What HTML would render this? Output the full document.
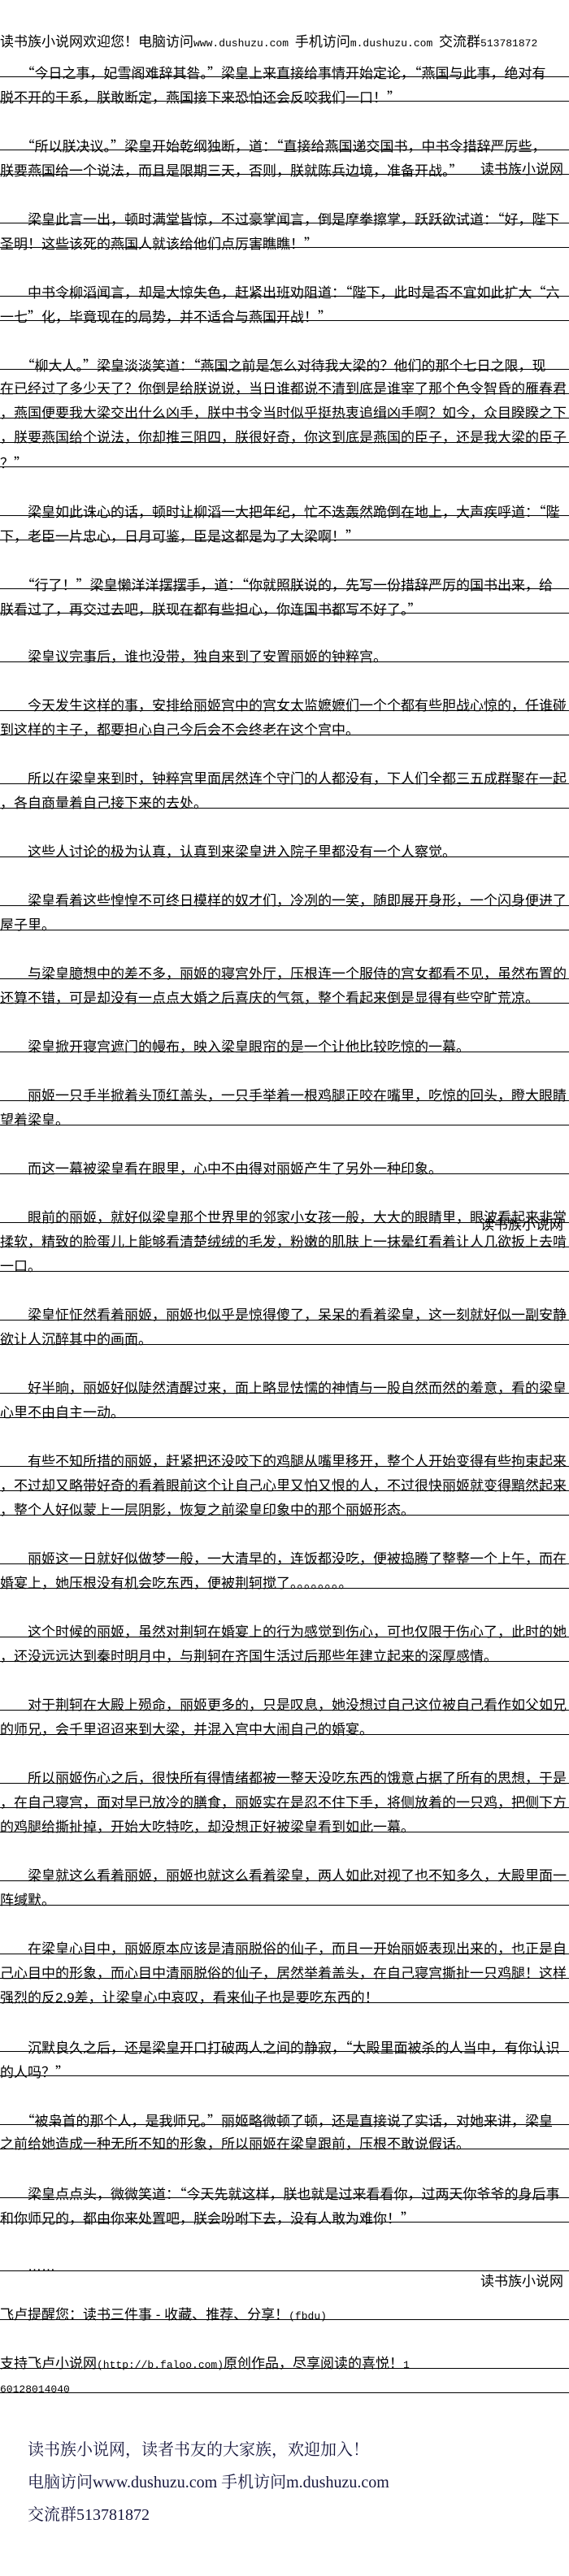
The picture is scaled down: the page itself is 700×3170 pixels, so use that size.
<!DOCTYPE html>
<html><head><meta charset="utf-8">
<style>
html,body{margin:0;padding:0;background:#fff;}
body{width:700px;height:3170px;position:relative;overflow:hidden;font-family:"Liberation Sans","Noto Sans CJK SC",sans-serif;font-size:17px;color:#000;}
.r{position:absolute;left:0;width:700px;height:20px;border-bottom:1px solid #000;line-height:30px;white-space:nowrap;}
.h{position:absolute;left:0;line-height:30px;white-space:nowrap;}
.m{font-family:"Liberation Mono",monospace;font-size:13px;}
.q{font-family:"Noto Sans CJK SC",sans-serif;}
.w{position:absolute;right:7px;line-height:30px;white-space:nowrap;background:transparent;}
.f{position:absolute;left:34px;font-family:"Liberation Serif","Noto Serif CJK SC",serif;font-size:20px;color:#16163c;line-height:30px;white-space:nowrap;}
</style></head><body>
<div class="h" style="top:37px">读书族小说网欢迎您！电脑访问<span class="m">www.dushuzu.com </span>手机访问<span class="m">m.dushuzu.com </span>交流群<span class="m">513781872</span></div>

<div class="r" style="top:74px">　　<span class="q">“</span>今日之事，妃雪阁难辞其咎。<span class="q">”</span>梁皇上来直接给事情开始定论，<span class="q">“</span>燕国与此事，绝对有</div>
<div class="r" style="top:104px">脱不开的干系，朕敢断定，燕国接下来恐怕还会反咬我们一口！<span class="q">”</span></div>
<div class="r" style="top:164px">　　<span class="q">“</span>所以朕决议。<span class="q">”</span>梁皇开始乾纲独断，道：<span class="q">“</span>直接给燕国递交国书，中书令措辞严厉些，</div>
<div class="r" style="top:194px">朕要燕国给一个说法，而且是限期三天，否则，朕就陈兵边境，准备开战。<span class="q">”</span></div>
<div class="w" style="top:194px">读书族小说网</div>
<div class="r" style="top:254px">　　梁皇此言一出，顿时满堂皆惊，不过豪掌闻言，倒是摩拳擦掌，跃跃欲试道：<span class="q">“</span>好，陛下</div>
<div class="r" style="top:284px">圣明！这些该死的燕国人就该给他们点厉害瞧瞧！<span class="q">”</span></div>
<div class="r" style="top:344px">　　中书令柳滔闻言，却是大惊失色，赶紧出班劝阻道：<span class="q">“</span>陛下，此时是否不宜如此扩大<span class="q">“</span>六</div>
<div class="r" style="top:374px">一七<span class="q">”</span>化，毕竟现在的局势，并不适合与燕国开战！<span class="q">”</span></div>
<div class="r" style="top:434px">　　<span class="q">“</span>柳大人。<span class="q">”</span>梁皇淡淡笑道：<span class="q">“</span>燕国之前是怎么对待我大梁的？他们的那个七日之限，现</div>
<div class="r" style="top:464px">在已经过了多少天了？你倒是给朕说说，当日谁都说不清到底是谁宰了那个色令智昏的雁春君</div>
<div class="r" style="top:494px">，燕国便要我大梁交出什么凶手，朕中书令当时似乎挺热衷追缉凶手啊？如今，众目睽睽之下</div>
<div class="r" style="top:524px">，朕要燕国给个说法，你却推三阻四，朕很好奇，你这到底是燕国的臣子，还是我大梁的臣子</div>
<div class="r" style="top:554px">？<span class="q">”</span></div>
<div class="r" style="top:614px">　　梁皇如此诛心的话，顿时让柳滔一大把年纪，忙不迭轰然跪倒在地上，大声疾呼道：<span class="q">“</span>陛</div>
<div class="r" style="top:644px">下，老臣一片忠心，日月可鉴，臣是这都是为了大梁啊！<span class="q">”</span></div>
<div class="r" style="top:704px">　　<span class="q">“</span>行了！<span class="q">”</span>梁皇懒洋洋摆摆手，道：<span class="q">“</span>你就照朕说的，先写一份措辞严厉的国书出来，给</div>
<div class="r" style="top:734px">朕看过了，再交过去吧，朕现在都有些担心，你连国书都写不好了。<span class="q">”</span></div>
<div class="r" style="top:794px">　　梁皇议完事后，谁也没带，独自来到了安置丽姬的钟粹宫。</div>
<div class="r" style="top:854px">　　今天发生这样的事，安排给丽姬宫中的宫女太监嬷嬷们一个个都有些胆战心惊的，任谁碰</div>
<div class="r" style="top:884px">到这样的主子，都要担心自己今后会不会终老在这个宫中。</div>
<div class="r" style="top:944px">　　所以在梁皇来到时，钟粹宫里面居然连个守门的人都没有，下人们全都三五成群聚在一起</div>
<div class="r" style="top:974px">，各自商量着自己接下来的去处。</div>
<div class="r" style="top:1034px">　　这些人讨论的极为认真，认真到来梁皇进入院子里都没有一个人察觉。</div>
<div class="r" style="top:1094px">　　梁皇看着这些惶惶不可终日模样的奴才们，冷冽的一笑，随即展开身形，一个闪身便进了</div>
<div class="r" style="top:1124px">屋子里。</div>
<div class="r" style="top:1184px">　　与梁皇臆想中的差不多，丽姬的寝宫外厅，压根连一个服侍的宫女都看不见，虽然布置的</div>
<div class="r" style="top:1214px">还算不错，可是却没有一点点大婚之后喜庆的气氛，整个看起来倒是显得有些空旷荒凉。</div>
<div class="r" style="top:1274px">　　梁皇掀开寝宫遮门的幔布，映入梁皇眼帘的是一个让他比较吃惊的一幕。</div>
<div class="r" style="top:1334px">　　丽姬一只手半掀着头顶红盖头，一只手举着一根鸡腿正咬在嘴里，吃惊的回头，瞪大眼睛</div>
<div class="r" style="top:1364px">望着梁皇。</div>
<div class="r" style="top:1424px">　　而这一幕被梁皇看在眼里，心中不由得对丽姬产生了另外一种印象。</div>
<div class="r" style="top:1484px">　　眼前的丽姬，就好似梁皇那个世界里的邻家小女孩一般，大大的眼睛里，眼波看起来非常</div>
<div class="w" style="top:1493px">读书族小说网</div>
<div class="r" style="top:1514px">揉软，精致的脸蛋儿上能够看清楚绒绒的毛发，粉嫩的肌肤上一抹晕红看着让人几欲扳上去啃</div>
<div class="r" style="top:1544px">一口。</div>
<div class="r" style="top:1604px">　　梁皇怔怔然看着丽姬，丽姬也似乎是惊得傻了，呆呆的看着梁皇，这一刻就好似一副安静</div>
<div class="r" style="top:1634px">欲让人沉醉其中的画面。</div>
<div class="r" style="top:1694px">　　好半晌，丽姬好似陡然清醒过来，面上略显怯懦的神情与一股自然而然的羞意，看的梁皇</div>
<div class="r" style="top:1724px">心里不由自主一动。</div>
<div class="r" style="top:1784px">　　有些不知所措的丽姬，赶紧把还没咬下的鸡腿从嘴里移开，整个人开始变得有些拘束起来</div>
<div class="r" style="top:1814px">，不过却又略带好奇的看着眼前这个让自己心里又怕又恨的人，不过很快丽姬就变得黯然起来</div>
<div class="r" style="top:1844px">，整个人好似蒙上一层阴影，恢复之前梁皇印象中的那个丽姬形态。</div>
<div class="r" style="top:1904px">　　丽姬这一日就好似做梦一般，一大清早的，连饭都没吃，便被捣腾了整整一个上午，而在</div>
<div class="r" style="top:1934px">婚宴上，她压根没有机会吃东西，便被荆轲搅了。。。。。。。。</div>
<div class="r" style="top:1994px">　　这个时候的丽姬，虽然对荆轲在婚宴上的行为感觉到伤心，可也仅限于伤心了，此时的她</div>
<div class="r" style="top:2024px">，还没远远达到秦时明月中，与荆轲在齐国生活过后那些年建立起来的深厚感情。</div>
<div class="r" style="top:2084px">　　对于荆轲在大殿上殒命，丽姬更多的，只是叹息，她没想过自己这位被自己看作如父如兄</div>
<div class="r" style="top:2114px">的师兄，会千里迢迢来到大梁，并混入宫中大闹自己的婚宴。</div>
<div class="r" style="top:2174px">　　所以丽姬伤心之后，很快所有得情绪都被一整天没吃东西的饿意占据了所有的思想，于是</div>
<div class="r" style="top:2204px">，在自己寝宫，面对早已放冷的膳食，丽姬实在是忍不住下手，将侧放着的一只鸡，把侧下方</div>
<div class="r" style="top:2234px">的鸡腿给撕扯掉，开始大吃特吃，却没想正好被梁皇看到如此一幕。</div>
<div class="r" style="top:2294px">　　梁皇就这么看着丽姬，丽姬也就这么看着梁皇，两人如此对视了也不知多久，大殿里面一</div>
<div class="r" style="top:2324px">阵缄默。</div>
<div class="r" style="top:2384px">　　在梁皇心目中，丽姬原本应该是清丽脱俗的仙子，而且一开始丽姬表现出来的，也正是自</div>
<div class="r" style="top:2414px">己心目中的形象，而心目中清丽脱俗的仙子，居然举着盖头，在自己寝宫撕扯一只鸡腿！这样</div>
<div class="r" style="top:2444px">强烈的反2.9差，让梁皇心中哀叹，看来仙子也是要吃东西的！</div>
<div class="r" style="top:2504px">　　沉默良久之后，还是梁皇开口打破两人之间的静寂，<span class="q">“</span>大殿里面被杀的人当中，有你认识</div>
<div class="r" style="top:2534px">的人吗？<span class="q">”</span></div>
<div class="r" style="top:2594px">　　<span class="q">“</span>被枭首的那个人，是我师兄。<span class="q">”</span>丽姬略微顿了顿，还是直接说了实话，对她来讲，梁皇</div>
<div class="r" style="top:2624px">之前给她造成一种无所不知的形象，所以丽姬在梁皇跟前，压根不敢说假话。</div>
<div class="r" style="top:2684px">　　梁皇点点头，微微笑道：<span class="q">“</span>今天先就这样，朕也就是过来看看你，过两天你爷爷的身后事</div>
<div class="r" style="top:2714px">和你师兄的，都由你来处置吧，朕会吩咐下去，没有人敢为难你！<span class="q">”</span></div>
<div class="r" style="top:2774px">　　……</div>
<div class="w" style="top:2793px">读书族小说网</div>
<div class="r" style="top:2834px">飞卢提醒您：读书三件事 - 收藏、推荐、分享！<span class="m">(fbdu)</span></div>
<div class="r" style="top:2894px">支持飞卢小说网<span class="m">(http://b.faloo.com)</span>原创作品，尽享阅读的喜悦！<span class="m">1</span></div>
<div class="r" style="top:2924px"><span class="m">60128014040</span></div>

<div class="f" style="top:3000px">读书族小说网，读者书友的大家族，欢迎加入！</div>
<div class="f" style="top:3040px">电脑访问www.dushuzu.com 手机访问m.dushuzu.com</div>
<div class="f" style="top:3080px">交流群513781872</div>
</body></html>
